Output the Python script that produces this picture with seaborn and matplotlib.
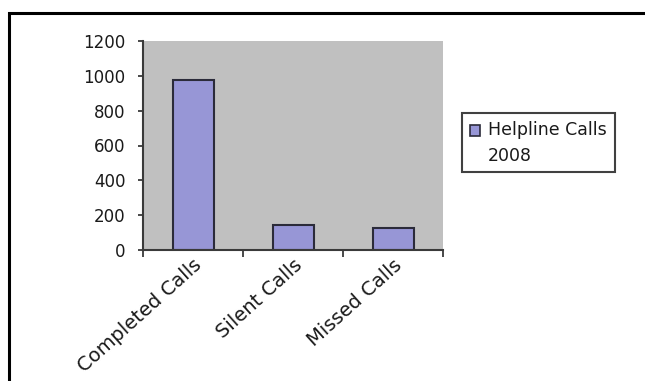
import matplotlib
matplotlib.use("Agg")
import matplotlib.pyplot as plt
import matplotlib.transforms as mtransforms
from matplotlib.legend_handler import HandlerPatch
import seaborn as sns
import pandas as pd
from matplotlib.patches import Patch, Rectangle

categories = ["Completed Calls", "Silent Calls", "Missed Calls"]
values = [978, 142, 128]
series_label = "Helpline Calls\n2008"
yticks = [0, 200, 400, 600, 800, 1000, 1200]

df = pd.DataFrame({"category": categories, "calls": values})

sns.set_style("white")
plt.rcParams["font.family"] = ["DejaVu Sans"]

bar_color = "#9796d6"
edge_color = "#2b2b3a"
axis_color = "#3a3a3a"
text_color = "#1a1a1a"

fig = plt.figure(figsize=(6.45, 3.81), dpi=100)
ax = fig.add_axes([143/645, 1-250/381, 300/645, 209/381])

sns.barplot(data=df, x="category", y="calls", ax=ax, color=bar_color,
            edgecolor=edge_color, linewidth=1.5, width=0.41, saturation=1)

ax.set_facecolor("#c0c0c0")
ax.set_xlim(-0.5, 2.5)
ax.set_ylim(0, 1200)
ax.set_yticks(yticks)
ax.set_yticklabels([str(v) for v in yticks], fontsize=12, color=text_color)
ax.set_xlabel("")
ax.set_ylabel("")

# Excel-style category ticks at boundaries
ax.set_xticks([0, 1, 2])
ax.set_xticklabels(categories, rotation=42, ha="right", rotation_mode="anchor",
                   fontsize=14, color=text_color)
offset = mtransforms.ScaledTranslation(5/100, 0, fig.dpi_scale_trans)
for lbl in ax.get_xticklabels():
    lbl.set_transform(lbl.get_transform() + offset)
ax.set_xticks([-0.5, 0.5, 1.5, 2.5], minor=True)
ax.tick_params(axis="x", which="major", length=0, pad=4)
ax.tick_params(axis="x", which="minor", length=5, width=1.3, color=axis_color, direction="out", bottom=True)
ax.tick_params(axis="y", length=3.5, width=1.3, color=axis_color, direction="out", left=True, pad=9)

for s in ["top", "right"]:
    ax.spines[s].set_visible(False)
for s in ["left", "bottom"]:
    ax.spines[s].set_color(axis_color)
    ax.spines[s].set_linewidth(1.5)


def top_square(legend, orig_handle, xdescent, ydescent, width, height, fontsize):
    size = width
    return Rectangle((-xdescent, -ydescent + height - size + 0.2 * fontsize), size, size)


handle = Patch(facecolor=bar_color, edgecolor=edge_color, linewidth=1.2)
leg = ax.legend(handles=[handle], labels=[series_label], loc="upper left",
                bbox_to_anchor=(462/645, 1-113/381), bbox_transform=fig.transFigure,
                borderaxespad=0, fontsize=12.5, frameon=True, fancybox=False,
                handlelength=0.6, handleheight=2.4, handletextpad=0.45,
                borderpad=0.45, labelspacing=0.2,
                handler_map={Patch: HandlerPatch(patch_func=top_square)})
for t in leg.get_texts():
    t.set_linespacing(1.55)
    t.set_color(text_color)
leg.get_frame().set_edgecolor("#111111")
leg.get_frame().set_linewidth(1.5)
leg.get_frame().set_facecolor("white")

# outer frame
fig.patches.append(Rectangle((9/645, -0.1), 1.2, 1 - 13/381 + 0.1, transform=fig.transFigure,
                             fill=False, edgecolor="black", linewidth=2.2, zorder=10))

fig.savefig("out.png", dpi=100)
